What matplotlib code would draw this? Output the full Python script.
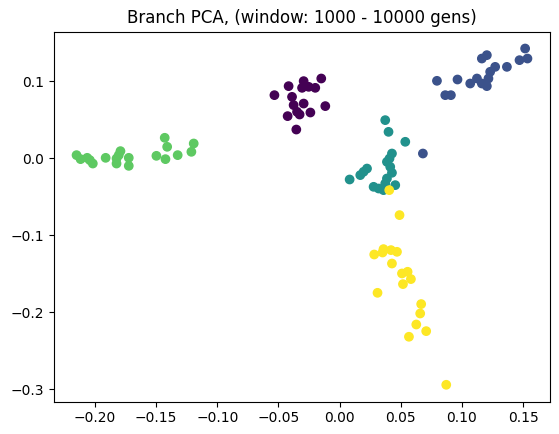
import numpy as np
import matplotlib
matplotlib.use("Agg")
import matplotlib.pyplot as plt

# cluster 0 (purple)
c0_x = [-0.0533, -0.0417, -0.0294, -0.0150, -0.0307, -0.0253, -0.0199, -0.0389,
        -0.0376, -0.0294, -0.0348, -0.0327, -0.0239, -0.0117, -0.0425, -0.0354]
c0_y = [0.0818, 0.0935, 0.1000, 0.1034, 0.0913, 0.0926, 0.0913, 0.0796,
        0.0689, 0.0709, 0.0602, 0.0567, 0.0593, 0.0676, 0.0546, 0.0372]
# cluster 1 (blue)
c1_x = [0.0796, 0.0864, 0.0910, 0.0964, 0.1068, 0.1123, 0.1163, 0.1204, 0.1217,
        0.1231, 0.1272, 0.1163, 0.1204, 0.1368, 0.1471, 0.1517, 0.1536, 0.0681]
c1_y = [0.1004, 0.0818, 0.0818, 0.1021, 0.0969, 0.1034, 0.0969, 0.0935, 0.1034,
        0.1121, 0.1185, 0.1293, 0.1337, 0.1185, 0.1272, 0.1423, 0.1293, 0.0061]
# cluster 2 (teal)
c2_x = [0.0373, 0.0400, 0.0537, 0.0428, 0.0408, 0.0387, 0.0414, 0.0428, 0.0224,
        0.0196, 0.0169, 0.0082, 0.0387, 0.0373, 0.0278, 0.0319, 0.0359, 0.0455]
c2_y = [0.0494, 0.0342, 0.0213, 0.0061, -0.0004, -0.0047, -0.0112, -0.0189, -0.0134,
        -0.0176, -0.0219, -0.0276, -0.0263, -0.0328, -0.0371, -0.0393, -0.0414, -0.0349]
# cluster 3 (green)
c3_x = [-0.2151, -0.2118, -0.2064, -0.2042, -0.2018, -0.1913, -0.1824, -0.1792, -0.1806,
        -0.1824, -0.1724, -0.1724, -0.1430, -0.1410, -0.1498, -0.1424, -0.1324, -0.1193, -0.1212]
c3_y = [0.0040, -0.0012, 0.0005, -0.0025, -0.0069, 0.0005, -0.0004, 0.0092, 0.0040,
        -0.0069, 0.0005, -0.0099, 0.0265, 0.0148, 0.0031, -0.0012, 0.0040, 0.0191, 0.0083]
# cluster 4 (yellow)
c4_x = [0.0406, 0.0490, 0.0283, 0.0351, 0.0359, 0.0420, 0.0469, 0.0428, 0.0510, 0.0556,
        0.0583, 0.0518, 0.0310, 0.0667, 0.0659, 0.0627, 0.0708, 0.0567, 0.0872]
c4_y = [-0.0414, -0.0738, -0.1249, -0.1223, -0.1179, -0.1192, -0.1214, -0.1366, -0.1495, -0.1473,
        -0.1568, -0.1633, -0.1746, -0.1892, -0.2014, -0.2157, -0.2243, -0.2316, -0.2939]

clusters = [(c0_x, c0_y), (c1_x, c1_y), (c2_x, c2_y), (c3_x, c3_y), (c4_x, c4_y)]
xs, ys, labels = [], [], []
for k, (cx, cy) in enumerate(clusters):
    xs += cx
    ys += cy
    labels += [k] * len(cx)

fig = plt.figure(figsize=(5.59, 4.34), dpi=100)
ax = fig.add_axes([54 / 559, (434 - 401.6) / 434, 496 / 559, 369.9 / 434])
ax.scatter(xs, ys, c=labels, cmap="viridis", s=36)
ax.set_title("Branch PCA, (window: 1000 - 10000 gens)")
fig.savefig("out.png", dpi=100)
